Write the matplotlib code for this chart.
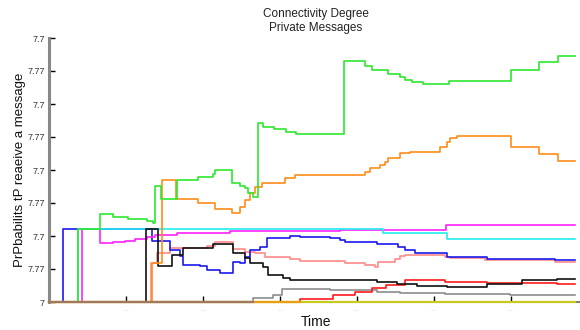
import matplotlib
matplotlib.use('Agg')
import matplotlib.pyplot as plt

plt.rcParams['font.family'] = ['Liberation Sans', 'DejaVu Sans']

# step series: times where the value changes, and the value from then on
green_t = [0, 37.7, 66.2, 83.1, 102.6, 127.3, 135.1, 137.7, 145.5, 166.2, 193.5, 213.0, 215.6, 237.7,
           248.1, 254.5, 258.4, 264.9, 271.4, 277.9, 292.2, 307.8, 320.8, 383.1, 410.4, 419.5, 440.3,
           455.8, 462.3, 471.4, 485.7, 519.5, 600.0, 636.4, 661.0, 683.1]
green_p = [0, 0.221, 0.267, 0.258, 0.252, 0.245, 0.239, 0.352, 0.312, 0.370, 0.379, 0.388, 0.400, 0.361,
           0.352, 0.345, 0.330, 0.318, 0.542, 0.530, 0.524, 0.515, 0.509, 0.730, 0.715, 0.703, 0.691,
           0.682, 0.673, 0.667, 0.661, 0.670, 0.703, 0.727, 0.745, 0.745]

orange_t = [0, 133.8, 146.8, 164.9, 193.5, 215.6, 237.7, 248.1, 254.5, 261.0, 267.5, 276.6, 306.5, 319.5,
            410.4, 416.9, 429.9, 436.4, 440.3, 455.8, 468.8, 507.8, 516.9, 520.8, 529.9, 600.0, 636.4,
            661.0, 683.1]
orange_p = [0, 0.118, 0.370, 0.312, 0.300, 0.282, 0.270, 0.288, 0.309, 0.330, 0.348, 0.361, 0.376, 0.385,
            0.394, 0.406, 0.415, 0.424, 0.436, 0.452, 0.455, 0.470, 0.485, 0.497, 0.503, 0.470, 0.448,
            0.427, 0.427]

magenta_t = [0, 42.9, 66.2, 83.1, 98.7, 111.7, 127.3, 137.7, 166.2, 235.1, 377.9, 515.6, 683.1]
magenta_p = [0, 0.221, 0.179, 0.182, 0.185, 0.191, 0.197, 0.203, 0.209, 0.215, 0.219, 0.234, 0.234]

cyan_t = [0, 37.7, 433.8, 516.9, 683.1]
cyan_p = [0, 0.221, 0.210, 0.191, 0.191]

blue_t = [0, 18.2, 133.8, 157.1, 170.1, 174.0, 196.1, 205.2, 222.1, 239.0, 248.1, 254.5, 261.0, 274.0,
          283.1, 313.0, 326.0, 364.9, 377.9, 384.4, 426.0, 453.2, 462.3, 475.3, 516.9, 568.8, 657.1, 683.1]
blue_p = [0, 0.221, 0.185, 0.158, 0.139, 0.112, 0.109, 0.097, 0.088, 0.121, 0.118, 0.136, 0.158, 0.167,
          0.194, 0.200, 0.197, 0.194, 0.188, 0.182, 0.176, 0.167, 0.158, 0.148, 0.136, 0.130, 0.127, 0.127]

salmon_t = [0, 132.5, 140.3, 157.1, 205.2, 215.6, 239.0, 254.5, 267.5, 280.5, 313.0, 326.0, 384.4, 410.4,
            423.4, 427.3, 449.4, 455.8, 462.3, 514.3, 520.8, 566.2, 657.1, 683.1]
salmon_p = [0, 0.118, 0.148, 0.164, 0.170, 0.182, 0.161, 0.152, 0.148, 0.136, 0.130, 0.124, 0.118, 0.112,
            0.106, 0.121, 0.130, 0.139, 0.142, 0.136, 0.133, 0.127, 0.121, 0.121]

black_t = [0, 126.0, 141.6, 159.7, 174.0, 213.0, 239.0, 254.5, 261.0, 277.9, 284.4, 303.9, 313.0, 426.0,
           452.0, 477.9, 516.9, 568.8, 614.0, 660.0, 683.1]
black_p = [0, 0.221, 0.109, 0.142, 0.164, 0.176, 0.148, 0.133, 0.118, 0.106, 0.082, 0.073, 0.067, 0.061,
           0.055, 0.048, 0.045, 0.055, 0.067, 0.070, 0.070]

red_t = [0, 326.0, 368.8, 397.4, 419.5, 438.0, 462.3, 514.3, 568.8, 659.7, 683.1]
red_p = [0, 0.009, 0.021, 0.030, 0.042, 0.052, 0.067, 0.061, 0.058, 0.055, 0.055]

gray_t = [0, 264.9, 290.9, 302.6, 364.9, 426.0, 455.8, 514.3, 598.7, 683.1]
gray_p = [0, 0.012, 0.021, 0.039, 0.036, 0.030, 0.027, 0.024, 0.021, 0.021]

# nodes that never got the message (stay at zero)
olive_t = [0, 683.1]
olive_p = [0, 0]
gold_t = [0, 326.0]
gold_p = [0, 0]
brown_t = [0, 264.9]
brown_p = [0, 0]

yticks = [0, 0.1, 0.2, 0.3, 0.4, 0.5, 0.6, 0.7, 0.8]
ytick_labels = ['7', '7.77', '7.7', '7.77', '7.7', '7.77', '7.7', '7.77', '7.7']
xticks = [100, 200, 300, 400, 500, 600]
xtick_labels = ['...'] * 6

fig = plt.figure(figsize=(5.8, 3.3), dpi=100)
ax = fig.add_axes([49 / 580, 28 / 330, 531 / 580, 264 / 330])

series = [
    (gray_t, gray_p, '#8c8c8c'),
    (red_t, red_p, '#ff1a1a'),
    (salmon_t, salmon_p, '#ff8a8a'),
    (blue_t, blue_p, '#1a1aee'),
    (magenta_t, magenta_p, '#ff22ff'),
    (cyan_t, cyan_p, '#22eeee'),
    (black_t, black_p, '#111111'),
    (orange_t, orange_p, '#ff8c1a'),
    (green_t, green_p, '#2ee82e'),
]
for t, p, c in series:
    ax.step(t, p, where='post', color=c, lw=1.2, zorder=2)

for t, p, c in [(olive_t, olive_p, '#c8c81e'), (gold_t, gold_p, '#e8a010'), (brown_t, brown_p, '#a07862')]:
    ax.step(t, p, where='post', color=c, lw=1.6, zorder=3, clip_on=False)

ax.set_xlim(0, 690)
ax.set_ylim(0, 0.8)

ax.set_yticks(yticks)
ax.set_yticklabels(ytick_labels, fontsize=6.5, color='#333333')
ax.set_xticks(xticks)
ax.set_xticklabels(xtick_labels, fontsize=5, color='#d0d0d0')
ax.tick_params(direction='in', length=4, width=1, color='black', pad=3)

for s in ['top', 'right']:
    ax.spines[s].set_visible(False)
ax.spines['left'].set_color('#888888')
ax.spines['left'].set_linewidth(2.2)
ax.spines['bottom'].set_color('#666666')
ax.spines['bottom'].set_linewidth(1.2)

ax.set_ylabel('PrPbabilits tP reaeive a message', fontsize=9.5, color='#111111')
ax.yaxis.set_label_coords(-0.043, 0.5)
ax.set_xlabel('Time', fontsize=10, color='#111111')
ax.xaxis.set_label_coords((316 - 49) / 531, -0.05)

fig.text(316 / 580, 1 - 21 / 330, 'Connectivity Degree\nPrivate Messages', ha='center', va='center',
         fontsize=8.5, color='#222222', linespacing=1.2)

fig.savefig('out.png', dpi=100)
